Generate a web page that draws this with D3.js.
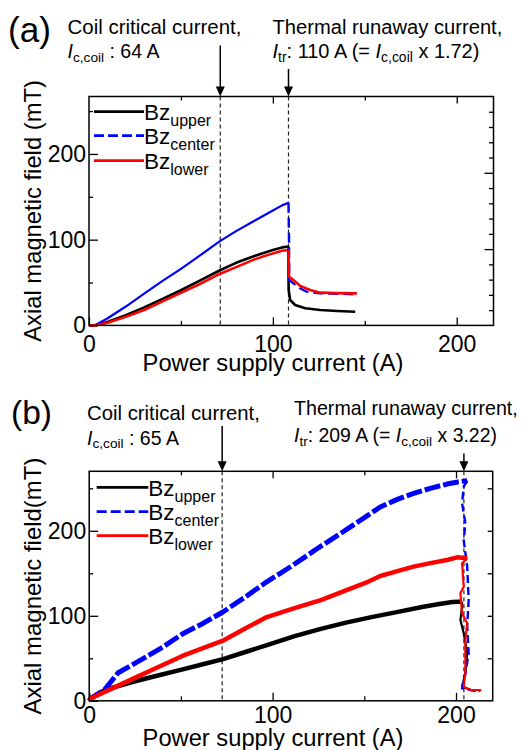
<!DOCTYPE html>
<html>
<head>
<meta charset="utf-8">
<script src="https://cdn.jsdelivr.net/npm/d3@7"></script>
<style>
  body { margin: 0; background: #fff; }
  text { font-family: "Liberation Sans", Arial, sans-serif; fill: #000; white-space: pre; }
</style>
</head>
<body>
<div id="root"></div>
<script>
// Size of the page
const width = 529;
const height = 750;

// Panel (a): power supply current (A) and field (mT)
const aUpperRiseI = [0, 3, 10, 20, 30, 40, 50, 60, 71, 80, 90, 100, 105, 108.5];
const aUpperRiseB = [0, 0, 4, 12, 21, 31, 41, 52, 64, 73, 81, 88, 91, 92];
const aUpperDropI = [108.5, 108.5, 108.6, 109.4, 112.1, 117.6, 125.7, 135, 144.8];
const aUpperDropB = [92, 60, 41, 29.6, 23.8, 20, 18, 16.8, 16];

const aCenterRiseI = [0, 3, 10, 20, 30, 40, 50, 60, 71, 80, 90, 100, 105, 108.5];
const aCenterRiseB = [0, 0, 8, 22, 37, 52, 66, 81, 98, 110, 122, 134, 140, 143];
const aCenterDropI = [108.5, 108.8, 108.9, 111.2, 114.9, 118.5, 125.7, 135, 144.8];
const aCenterDropB = [143, 100, 53, 49, 43, 39.3, 37.5, 37, 36.3];

const aLowerRiseI = [0, 3, 10, 20, 30, 40, 50, 60, 71, 80, 90, 100, 105, 108.5];
const aLowerRiseB = [0, 0, 3, 10, 18, 28, 38, 48, 60, 68, 77, 84, 87, 88];
const aLowerDropI = [108.5, 108.7, 108.8, 111.2, 114.9, 120.3, 125.7, 135, 145.7];
const aLowerDropB = [88, 70, 56.8, 53, 46, 41.3, 38.2, 37.6, 37.4];

// Panel (b)
const bUpperRiseI = [0, 1, 6, 12, 25, 38, 51, 62, 73, 86, 98.6, 112, 126.3, 140, 153.9, 167, 181.5, 190, 198.1, 201.5, 203.3];
const bUpperRiseB = [0, 3, 10, 15, 23, 30, 37, 43, 49, 58, 66.7, 76, 84.6, 92, 98.5, 104, 110.4, 113.5, 116.3, 116.6, 116.6];
const bUpperDropI = [203.3, 203.3, 202.4, 204.2, 206.1, 205.1, 203.3, 207.9, 210];
const bUpperDropB = [116.6, 110.7, 95, 79.4, 55.9, 32.4, 16.6, 13, 12];

const bCenterRiseI = [0, 1, 8, 15.8, 28.7, 40, 50.8, 62, 72.9, 85, 96.8, 110, 125, 140, 158.7, 168, 176.9, 186, 195.1, 201, 206.1];
const bCenterRiseB = [0, 3, 12, 33, 48.8, 63, 78.6, 91, 104.5, 122, 140, 158, 180, 201, 228, 237, 244, 250, 255, 257.5, 259];
const bCenterDropI = [206.1, 204.2, 203.3, 205.1, 204.2, 206.1, 206.9, 206.1, 206.9, 205.1, 203.3, 207.9, 211.5];
const bCenterDropB = [259, 251.9, 232.4, 208.8, 189.2, 157.8, 118.6, 87.2, 55.9, 32.4, 14.7, 12.7, 11.5];

const bLowerRiseI = [0, 1, 12, 24.9, 38, 50.8, 62, 72.9, 85, 96.8, 112, 126.3, 140, 152, 158.7, 168, 176.9, 186, 195.1, 200.6, 206.1];
const bLowerRiseB = [0, 3, 14, 27, 40, 52.8, 62, 70.7, 85, 98.5, 109, 118.4, 130, 140, 146.8, 152.5, 157.8, 162, 165.6, 168.8, 167.6];
const bLowerDropI = [206.1, 203.3, 204.2, 202.4, 203.3, 206.1, 205.1, 205.1, 205.1, 204.2, 207.9, 213.3, 212.4];
const bLowerDropB = [167.6, 161.8, 134.2, 126.5, 102.9, 91.2, 71.5, 48, 32.4, 16.6, 12.7, 12.7, 10.7];

// Critical current and thermal runaway current marks (A)
const aMarks = [71.4, 108.5];
const bMarks = [72.5, 204.3];

// Ticks and legend
const xTicks = [0, 100, 200];
const xMinor = [50, 150];
const yTicks = [0, 100, 200];
const yMinor = [50, 150, 250];
const names = ["upper", "center", "lower"];
const colors = ["#000000", "#0000ff", "#ff0000"];

const svg = d3
  .select("#root")
  .append("svg")
  .attr("width", width)
  .attr("height", height);

svg.append("rect").attr("width", width).attr("height", height).attr("fill", "#fff");

// Scale a text so that it spans the width seen in the picture
function fit(t, target) {
  const w = t.node().getComputedTextLength();
  if (!w) return t;
  const k = target / w;
  t.attr("font-size", +t.attr("font-size") * k);
  t.selectAll("tspan").each(function() {
    const s = d3.select(this);
    s.attr("font-size", +s.attr("font-size") * k);
    s.attr("dy", +s.attr("dy") * k);
  });
  return t;
}

function label(x, y, s, size, target) {
  const t = svg.append("text").attr("x", x).attr("y", y).attr("font-size", size).text(s);
  return target ? fit(t, target) : t;
}

// Text with italic / subscript pieces
function rich(x, y, parts, size, target) {
  const t = svg.append("text").attr("x", x).attr("y", y).attr("font-size", size);
  let shift = 0;
  parts.forEach(([s, kind]) => {
    const want = kind === "sub" ? Math.round(size * 0.2) : 0;
    t.append("tspan")
      .attr("dy", want - shift)
      .attr("font-size", kind === "sub" ? size * 0.7 : size)
      .attr("font-style", kind === "it" ? "italic" : null)
      .text(s);
    shift = want;
  });
  return fit(t, target);
}

function drawPanel(p) {
  const x = d3.scaleLinear().domain([0, 220]).range([p.left, p.right]);
  const y = d3.scaleLinear().domain([0, p.ymax]).range([p.bottom, p.top]);
  const g = svg.append("g");

  // Axes, ticks pointing inside
  function axis(a, pos) {
    const sel = g.append("g").attr("transform", pos).call(a);
    sel.select(".domain").remove();
    sel.attr("font-family", null);
    sel.selectAll("line").attr("stroke", "#000").attr("stroke-width", 1.3);
    sel.selectAll("text").attr("font-size", 23).attr("fill", "#000");
    return sel;
  }

  axis(
    d3.axisBottom(x).tickValues(xTicks).tickSizeInner(-8).tickSizeOuter(0).tickPadding(p.xPad),
    "translate(0," + p.bottom + ")"
  );
  axis(
    d3.axisBottom(x).tickValues(xMinor).tickSizeInner(-4.5).tickSizeOuter(0).tickFormat(""),
    "translate(0," + p.bottom + ")"
  );
  axis(
    d3.axisTop(x).tickValues([100, 200]).tickSizeInner(-7).tickSizeOuter(0).tickFormat(""),
    "translate(0," + p.top + ")"
  );
  axis(
    d3.axisTop(x).tickValues(xMinor).tickSizeInner(-4).tickSizeOuter(0).tickFormat(""),
    "translate(0," + p.top + ")"
  );
  axis(
    d3.axisLeft(y).tickValues(yTicks).tickSizeInner(-9).tickSizeOuter(0).tickPadding(3),
    "translate(" + p.left + ",0)"
  );
  axis(
    d3.axisLeft(y).tickValues(yMinor).tickSizeInner(-4).tickSizeOuter(0).tickFormat(""),
    "translate(" + p.left + ",0)"
  );

  if (p.rightScale) {
    const r = d3.scaleLinear().domain([0, 3]).range([p.bottom, p.top]);
    const all = r.ticks(15).filter(v => v > 0 && v < 3);
    axis(
      d3.axisRight(r).tickValues(all.filter(v => Math.abs(v - Math.round(v)) > 0.01))
        .tickSizeInner(-4.5).tickSizeOuter(0).tickFormat(""),
      "translate(" + p.right + ",0)"
    );
    axis(
      d3.axisRight(r).tickValues([1, 2]).tickSizeInner(-9).tickSizeOuter(0).tickFormat(""),
      "translate(" + p.right + ",0)"
    );
  } else {
    axis(
      d3.axisRight(y).tickValues([50, 100, 150, 200, 250]).tickSizeInner(-5).tickSizeOuter(0).tickFormat(""),
      "translate(" + p.right + ",0)"
    );
  }

  // Dashed marker lines
  g.selectAll(".mark")
    .data(p.marks)
    .enter()
    .append("line")
    .attr("x1", d => x(d))
    .attr("x2", d => x(d))
    .attr("y1", p.top)
    .attr("y2", p.bottom)
    .attr("stroke", "#222")
    .attr("stroke-width", 1.2)
    .attr("stroke-dasharray", "4,3");

  // Curves
  const line = d3
    .line()
    .x(d => x(d[0]))
    .y(d => y(d[1]));

  p.curves.forEach(c => {
    g.append("path")
      .datum(d3.zip(c.i, c.b))
      .attr("fill", "none")
      .attr("stroke", c.color)
      .attr("stroke-width", c.w)
      .attr("stroke-linejoin", "round")
      .attr("stroke-dasharray", c.dash)
      .attr("d", line);
  });

  // Frame
  g.append("rect")
    .attr("x", p.left)
    .attr("y", p.top)
    .attr("width", p.right - p.left)
    .attr("height", p.bottom - p.top)
    .attr("fill", "none")
    .attr("stroke", "#000")
    .attr("stroke-width", 1.5);

  // Arrows
  p.arrowTops.forEach((t, k) => {
    const ax = x(p.marks[k]);
    g.append("line")
      .attr("x1", ax).attr("x2", ax)
      .attr("y1", t).attr("y2", p.top - 6)
      .attr("stroke", "#000").attr("stroke-width", 1.5);
    g.append("path")
      .attr("d", d3.line()([[ax - 4.5, p.top - 10], [ax + 4.5, p.top - 10], [ax, p.top]]) + "Z")
      .attr("fill", "#000");
  });

  // Legend
  names.forEach((n, k) => {
    const ly = p.legendY[k];
    g.append("line")
      .attr("x1", p.legendX[0]).attr("x2", p.legendX[1])
      .attr("y1", ly).attr("y2", ly)
      .attr("stroke", colors[k])
      .attr("stroke-width", 2.8)
      .attr("stroke-dasharray", k === 1 ? "10,4" : null);
    const t = svg.append("text")
      .attr("x", p.legendX[1])
      .attr("y", ly + 8.5)
      .attr("font-size", 22.5)
      .text("Bz");
    t.append("tspan").attr("dy", 6).attr("font-size", 16).text(n);
  });

  // Axis titles
  fit(
    svg.append("text")
      .attr("transform", "translate(41," + (p.top + p.bottom) / 2 + ") rotate(-90)")
      .attr("text-anchor", "middle")
      .attr("font-size", 24)
      .text(p.yTitle),
    p.yTitleW
  );
  fit(
    svg.append("text")
      .attr("x", 273)
      .attr("y", p.xTitleY)
      .attr("text-anchor", "middle")
      .attr("font-size", 23)
      .text("Power supply current (A)"),
    261
  );
}

drawPanel({
  left: 89, right: 493.5, top: 96.5, bottom: 325.4, ymax: 267, xPad: 10,
  rightScale: true,
  marks: aMarks,
  arrowTops: [45.5, 69],
  legendX: [94, 144],
  legendY: [111.7, 135.7, 160.7],
  yTitle: "Axial magnetic field (mT)",
  yTitleW: 262,
  xTitleY: 371,
  curves: [
    { i: aUpperRiseI, b: aUpperRiseB, color: colors[0], w: 2.6 },
    { i: aUpperDropI, b: aUpperDropB, color: colors[0], w: 2.6 },
    { i: aCenterRiseI, b: aCenterRiseB, color: colors[1], w: 2.2 },
    { i: aCenterDropI, b: aCenterDropB, color: colors[1], w: 2.4, dash: "10,5" },
    { i: aLowerRiseI, b: aLowerRiseB, color: colors[2], w: 2.6 },
    { i: aLowerDropI, b: aLowerDropB, color: colors[2], w: 2.6 }
  ]
});

drawPanel({
  left: 89.2, right: 492.7, top: 471.3, bottom: 700.8, ymax: 270, xPad: 6,
  rightScale: false,
  marks: bMarks,
  arrowTops: [426, 453.5],
  legendX: [96.7, 148.3],
  legendY: [487.3, 511.7, 535.7],
  yTitle: "Axial magnetic field(mT)",
  yTitleW: 257,
  xTitleY: 746,
  curves: [
    { i: bUpperRiseI, b: bUpperRiseB, color: colors[0], w: 4.5 },
    { i: bUpperDropI, b: bUpperDropB, color: colors[0], w: 2.2 },
    { i: bCenterRiseI, b: bCenterRiseB, color: colors[1], w: 5, dash: "16,3" },
    { i: bCenterDropI, b: bCenterDropB, color: colors[1], w: 2.4, dash: "8,4" },
    { i: bLowerRiseI, b: bLowerRiseB, color: colors[2], w: 4.5 },
    { i: bLowerDropI, b: bLowerDropB, color: colors[2], w: 2.2 }
  ]
});

// Panel labels and annotations
label(8, 42, "(a)", 33, 43);
label(11, 423.5, "(b)", 33, 41);

label(67.5, 34, "Coil critical current,", 20, 174);
rich(67.5, 58, [["I", "it"], ["c,coil", "sub"], [" : 64 A"]], 20, 92);
label(272.5, 34, "Thermal runaway current,", 20, 230);
rich(272.5, 58, [["I", "it"], ["tr", "sub"], [": 110 A (= "], ["I", "it"], ["c,coil", "sub"], [" x 1.72)"]], 20, 207);

label(87, 419.5, "Coil critical current,", 20, 173);
rich(87, 444.5, [["I", "it"], ["c,coil", "sub"], [" : 65 A"]], 20, 92);
label(294, 414.5, "Thermal runaway current,", 20, 224);
rich(294, 442, [["I", "it"], ["tr", "sub"], [": 209 A (= "], ["I", "it"], ["c,coil", "sub"], [" x 3.22)"]], 20, 203);
</script>
</body>
</html>
